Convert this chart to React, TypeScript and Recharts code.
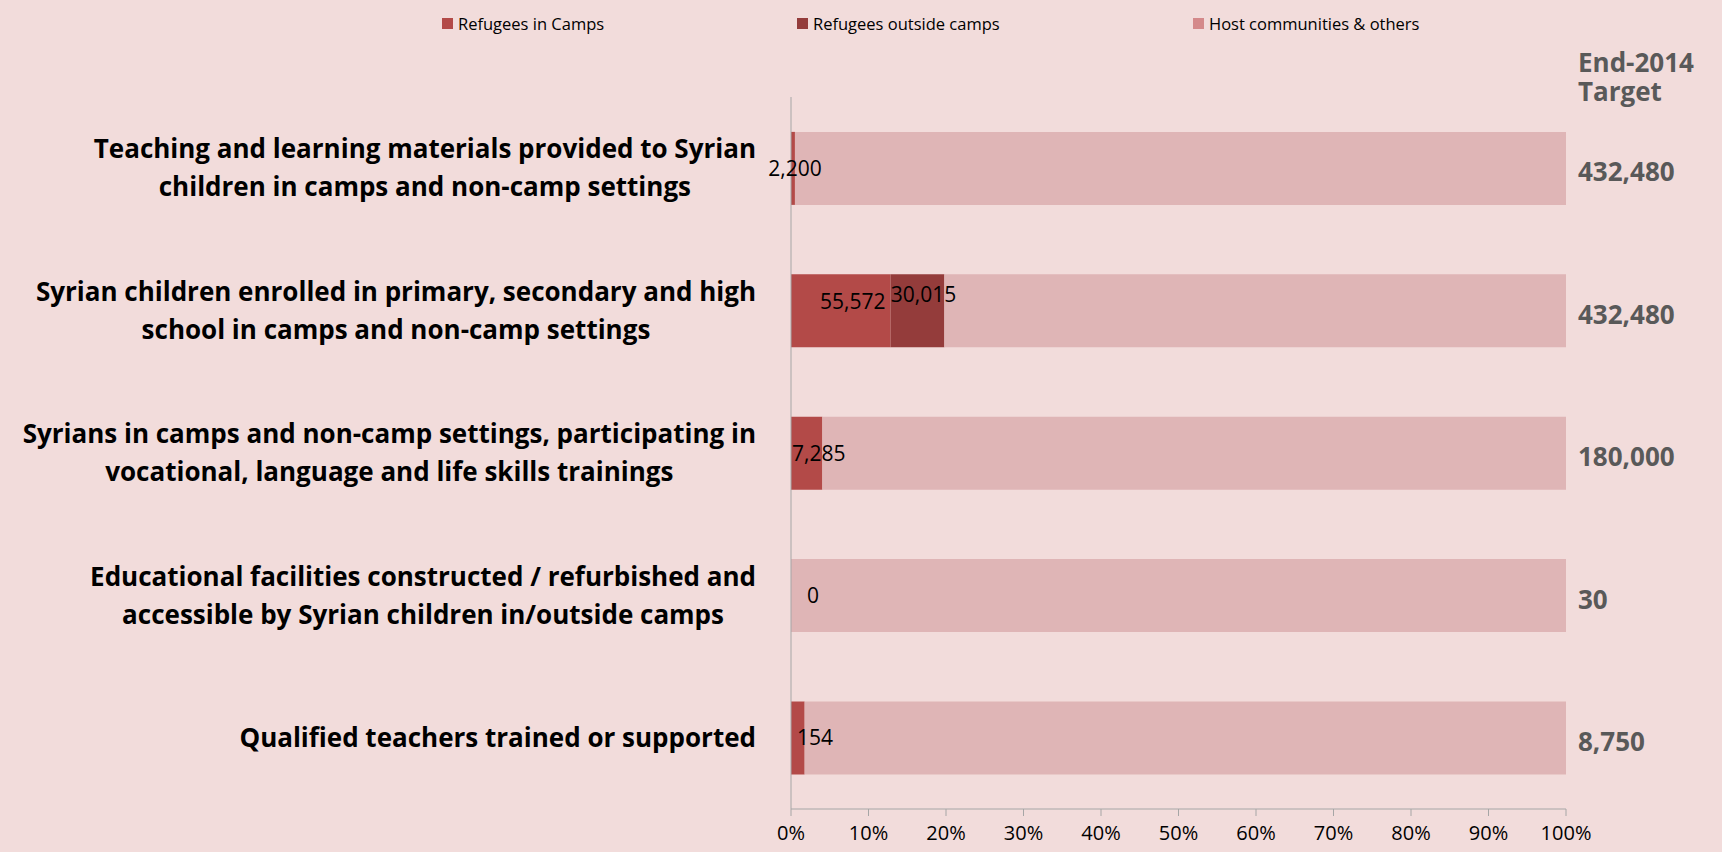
import React from "react";
import { BarChart, Bar, XAxis, YAxis, LabelList } from "recharts";

const categories = [
  "Teaching and learning materials provided to Syrian\nchildren in camps and non-camp settings",
  "Syrian children enrolled in primary, secondary and high\nschool in camps and non-camp settings",
  "Syrians in camps and non-camp settings, participating in\nvocational, language and life skills trainings",
  "Educational facilities constructed / refurbished and\naccessible by Syrian children in/outside camps",
  "Qualified teachers trained or supported",
];
const targets = [432480, 432480, 180000, 30, 8750];
const inCamps = [2200, 55572, 7285, 0, 154];
const outsideCamps = [0, 30015, 0, 0, 0];
const xTicks = [0, 10, 20, 30, 40, 50, 60, 70, 80, 90, 100];

const BG = "#F2DCDB";
const CAMPS = "#B34A48";
const OUTSIDE = "#943C3B";
const HOST = "#DFB5B6";
const HOST_LEGEND = "#D4898A";
const FONT = "'Open Sans', sans-serif";
const CAT_SIZE = 26;

const data = categories.map((name, i) => {
  const c = (inCamps[i] / targets[i]) * 100;
  const o = (outsideCamps[i] / targets[i]) * 100;
  return {
    name,
    camps: c,
    outside: o,
    host: 100 - c - o,
    campsCount: inCamps[i],
    outsideCount: outsideCamps[i],
    target: targets[i],
  };
});

const fmt = (v: number) => Number(v).toLocaleString("en-US");

let ctx: CanvasRenderingContext2D | null = null;
const measure = (s: string) => {
  if (!ctx) ctx = document.createElement("canvas").getContext("2d");
  if (!ctx) return s.length * CAT_SIZE * 0.58;
  ctx.font = `bold ${CAT_SIZE}px 'Open Sans'`;
  return ctx.measureText(s).width;
};

// category labels: centered block, right edge at ~755
const CategoryTick = (props: any) => {
  const { y, payload } = props;
  const lines = String(payload.value).split("\n");
  const lh = 38;
  const start = y - ((lines.length - 1) * lh) / 2;
  const w = Math.max(...lines.map(measure));
  const cx = 756 - w / 2;
  return (
    <text textAnchor="middle" fontFamily={FONT} fontWeight={700} fontSize={CAT_SIZE} fill="#000">
      {lines.map((l, i) => (
        <tspan key={i} x={cx} y={start + i * lh} dy="0.35em">
          {l}
        </tspan>
      ))}
    </text>
  );
};

const CountText = ({ x, y, children }: any) => (
  <text x={x} y={y} dy="0.35em" textAnchor="middle" fontFamily={FONT} fontSize={21} fill="#000">
    {children}
  </text>
);

const campsLabel = (props: any) => {
  const { x, y, width, height, value } = props;
  if (!value) return null;
  const big = width > 60;
  const cx = width < 8 ? x + width / 2 + 2 : x + Math.max(width / 2 + 12, 24);
  return (
    <CountText x={cx} y={y + height / 2 + (big ? -9 : 0)}>
      {fmt(value)}
    </CountText>
  );
};

const outsideLabel = (props: any) => {
  const { x, y, width, height, value } = props;
  if (!value) return null;
  return (
    <CountText x={x + width / 2 + 6} y={y + height / 2 - 16}>
      {fmt(value)}
    </CountText>
  );
};

const hostLabel = (props: any) => {
  const { x, y, width, height, index } = props;
  const d = data[index];
  return (
    <g>
      {d.campsCount === 0 && d.outsideCount === 0 && (
        <CountText x={x + 22} y={y + height / 2}>
          0
        </CountText>
      )}
      <text
        x={x + width + 12}
        y={y + height / 2 + 4}
        dy="0.35em"
        fontFamily={FONT}
        fontWeight={700}
        fontSize={26}
        fill="#595959"
      >
        {fmt(d.target)}
      </text>
    </g>
  );
};

const legendItems = [
  { label: "Refugees in Camps", color: CAMPS, left: 442 },
  { label: "Refugees outside camps", color: OUTSIDE, left: 797 },
  { label: "Host communities & others", color: HOST_LEGEND, left: 1193 },
];

const headStyle: React.CSSProperties = {
  position: "absolute",
  left: 1578,
  fontSize: 26,
  fontWeight: 700,
  color: "#595959",
  lineHeight: "28px",
  height: 28,
};

export default function App() {
  return (
    <div
      style={{
        position: "absolute",
        top: 0,
        left: 0,
        width: 1722,
        height: 852,
        background: BG,
        fontFamily: FONT,
      }}
    >
      {legendItems.map((it) => (
        <div
          key={it.label}
          style={{
            position: "absolute",
            left: it.left,
            top: 12,
            display: "flex",
            alignItems: "center",
            fontSize: 16.5,
            color: "#000",
          }}
        >
          <span
            style={{
              width: 11,
              height: 11,
              background: it.color,
              marginRight: 5,
              display: "inline-block",
            }}
          />
          {it.label}
        </div>
      ))}
      <div style={{ ...headStyle, top: 48 }}>End-2014</div>
      <div style={{ ...headStyle, top: 77 }}>Target</div>
      <div style={{ position: "absolute", top: 0, left: 0 }}>
        <BarChart
          width={1722}
          height={852}
          data={data}
          layout="vertical"
          barCategoryGap="24.5%"
          margin={{ top: 97, right: 156, bottom: 0, left: 0 }}
        >
          <XAxis
            type="number"
            domain={[0, 100]}
            ticks={xTicks}
            tickFormatter={(v) => `${v}%`}
            height={43}
            stroke="#A6A6A6"
            tickSize={7}
            tick={{ fill: "#000", fontSize: 20, fontFamily: FONT }}
            tickMargin={10}
          />
          <YAxis
            type="category"
            dataKey="name"
            width={791}
            stroke="#A6A6A6"
            tickLine={false}
            tick={<CategoryTick />}
            interval={0}
          />
          <Bar dataKey="camps" stackId="a" fill={CAMPS} isAnimationActive={false}>
            <LabelList dataKey="campsCount" content={campsLabel} />
          </Bar>
          <Bar dataKey="outside" stackId="a" fill={OUTSIDE} isAnimationActive={false}>
            <LabelList dataKey="outsideCount" content={outsideLabel} />
          </Bar>
          <Bar dataKey="host" stackId="a" fill={HOST} isAnimationActive={false}>
            <LabelList dataKey="target" content={hostLabel} />
          </Bar>
        </BarChart>
      </div>
    </div>
  );
}
